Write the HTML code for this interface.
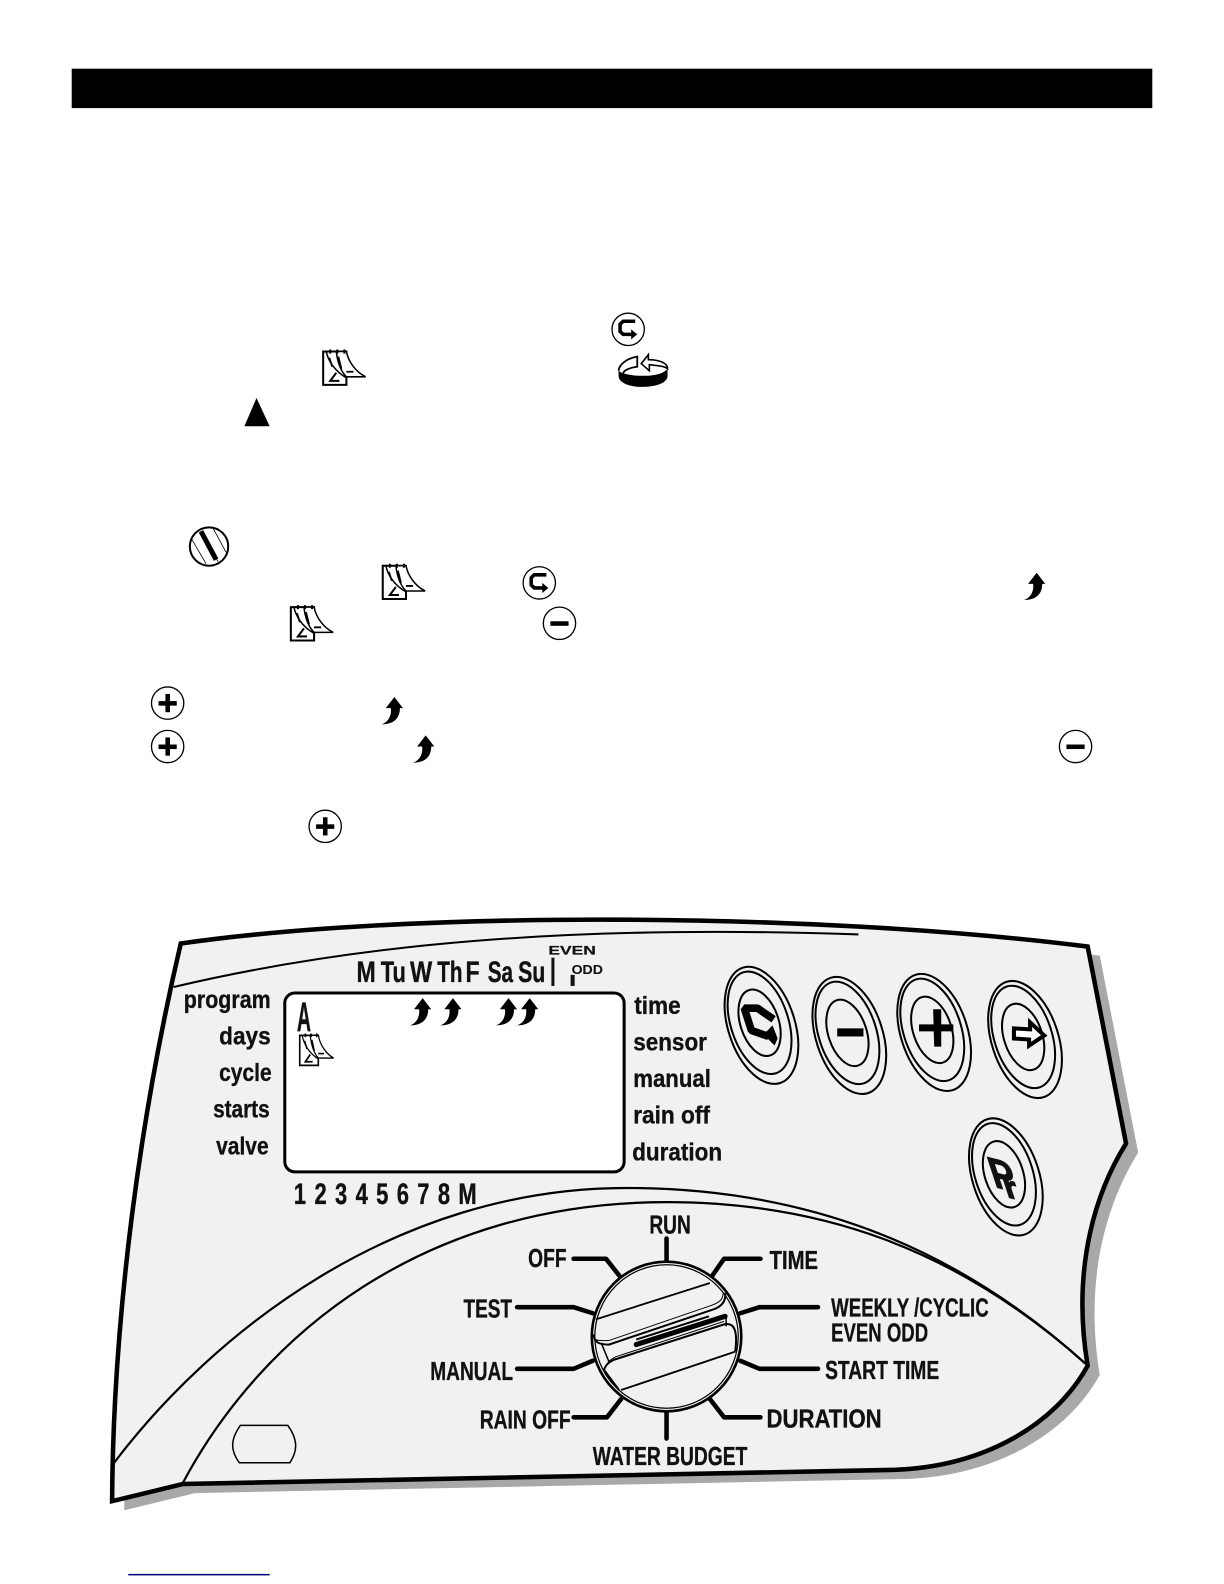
<!DOCTYPE html>
<html><head><meta charset="utf-8"><style>
html,body{margin:0;padding:0;background:#fff}
svg{display:block}
text{font-family:"Liberation Sans",sans-serif;font-weight:bold;fill:#111;stroke:#111;stroke-width:.35}
</style></head><body>
<svg width="1224" height="1584" viewBox="0 0 1212 1568" preserveAspectRatio="none" xmlns="http://www.w3.org/2000/svg">
<defs>
<g id="cal">
<path d="M1 1H24V34H1Z" fill="#fff" stroke="#000" stroke-width="2"/>
<path d="M4 1C6 10 12 20 24 27" fill="none" stroke="#000" stroke-width="1.5"/>
<path d="M14 1H24C26 11 33 21 43 26H24C18 20 15 10 14 1Z" fill="#fff" stroke="#000" stroke-width="1.5"/>
<path d="M8 -1v4M15 -1v4M22 -1v4" stroke="#000" stroke-width="2"/>
<path d="M7 7l3 9M16 6l3 12M24 21h7" fill="none" stroke="#000" stroke-width="1.8"/>
<path d="M14 22l-6 8h9" fill="none" stroke="#000" stroke-width="2"/>
</g>
<g id="arr"><path d="M12.5 0L21 11H18C18 21 12 27 0 27C6 25 10 19 9 11H4Z" fill="#000"/></g>
<g id="loopi"><path d="M7-8H-5L-8-5V2L-5 5H4" fill="none" stroke="#000" stroke-width="3.5"/><path d="M3 0L9 5L3 10Z" fill="#000"/></g>
<g id="minusi"><rect x="-9" y="-2" width="18" height="4.5" fill="#000"/></g>
<g id="plusi"><rect x="-9" y="-2" width="18" height="4.5" fill="#000"/><rect x="-2.2" y="-9" width="4.5" height="18" fill="#000"/></g>
<g id="btn" fill="none" stroke="#000" stroke-width="2">
<ellipse cx="0" cy="0" rx="33" ry="60"/>
<ellipse cx="-1" cy="-3" rx="28.5" ry="52.5"/>
<ellipse cx="-1" cy="-3" rx="19" ry="34"/>
</g>
</defs>

<rect x="71" y="68" width="1070" height="39" fill="#000"/>

<circle cx="622" cy="326" r="16" fill="#fff" stroke="#000" stroke-width="1.3"/><use href="#loopi" x="622" y="326"/>
<use href="#cal" x="319" y="347"/>
<g transform="translate(612,350)">
<path d="M.5 17C6 21 16 22 24 22C34 22 44 21 49 15V22C49 29 38 33 24 33C11 33 .5 29 .5 22Z" fill="#000"/>
<path d="M.5 17C1 11 8 5 19 3V13C11 14 5 17 5 20" fill="#fff" stroke="#000" stroke-width="1.8"/>
<path d="M23 10L30 1V6C40 6 49 9 49 15C45 12 38 12 31 11V17Z" fill="#fff" stroke="#000" stroke-width="1.6"/>
</g>
<path d="M254 394L267 422H242Z" fill="#000"/>

<g transform="translate(207,541)">
<circle r="19" fill="#fff" stroke="#000" stroke-width="2"/>
<path d="M-17-7L-3 17M-8-14L9 15M4-18L17 6" stroke="#000" stroke-width=".8" fill="none"/>
<path d="M-8-15L7 13" stroke="#000" stroke-width="5"/>
</g>
<use href="#cal" x="378" y="559"/>
<circle cx="534" cy="577" r="16" fill="#fff" stroke="#000" stroke-width="1.3"/><use href="#loopi" x="534" y="577"/>
<use href="#arr" x="1014" y="567"/>
<use href="#cal" x="287" y="600"/>
<circle cx="554" cy="617" r="16" fill="#fff" stroke="#000" stroke-width="1.3"/><use href="#minusi" x="554" y="617"/>
<circle cx="166" cy="696" r="16" fill="#fff" stroke="#000" stroke-width="1.3"/><use href="#plusi" x="166" y="696"/>
<use href="#arr" x="378" y="690"/>
<circle cx="166" cy="739" r="16" fill="#fff" stroke="#000" stroke-width="1.3"/><use href="#plusi" x="166" y="739"/>
<use href="#arr" x="409" y="728"/>
<circle cx="1065" cy="739" r="16" fill="#fff" stroke="#000" stroke-width="1.3"/><use href="#minusi" x="1065" y="739"/>
<circle cx="322" cy="818" r="16" fill="#fff" stroke="#000" stroke-width="1.3"/><use href="#plusi" x="322" y="818"/>

<path d="M179 934C400 902 800 902 1077 937L1115 1132C1088 1175 1060 1250 1077 1352C1045 1410 975 1452 885 1455L181 1469L111 1486C112 1300 140 1100 179 934Z" fill="#a6a8aa" transform="translate(12,9)"/>
<path d="M179 934C400 902 800 902 1077 937L1115 1132C1088 1175 1060 1250 1077 1352C1045 1410 975 1452 885 1455L181 1469L111 1486C112 1300 140 1100 179 934Z" fill="#f1f1f1" stroke="#000" stroke-width="4.5"/>
<path d="M172 977C350 935 560 915 850 925" fill="none" stroke="#000" stroke-width="2"/>
<path d="M113 1448C210 1320 390 1176 620 1176C790 1176 940 1228 1075 1350" fill="none" stroke="#000" stroke-width="2.2"/>
<path d="M181 1468C260 1320 420 1190 660 1190C810 1190 945 1234 1075 1350" fill="none" stroke="#000" stroke-width="2.2"/>
<rect x="282" y="983" width="336" height="177" rx="10" fill="#fff" stroke="#000" stroke-width="3"/>

<text x="182" y="998" font-size="25" textLength="86" lengthAdjust="spacingAndGlyphs">program</text>
<text x="217" y="1034" font-size="25" textLength="51" lengthAdjust="spacingAndGlyphs">days</text>
<text x="217" y="1070" font-size="25" textLength="52" lengthAdjust="spacingAndGlyphs">cycle</text>
<text x="211" y="1106" font-size="25" textLength="56" lengthAdjust="spacingAndGlyphs">starts</text>
<text x="214" y="1143" font-size="25" textLength="52" lengthAdjust="spacingAndGlyphs">valve</text>
<text x="628" y="1004" font-size="25" textLength="46" lengthAdjust="spacingAndGlyphs">time</text>
<text x="627" y="1040" font-size="25" textLength="73" lengthAdjust="spacingAndGlyphs">sensor</text>
<text x="627" y="1076" font-size="25" textLength="77" lengthAdjust="spacingAndGlyphs">manual</text>
<text x="627" y="1112" font-size="25" textLength="76" lengthAdjust="spacingAndGlyphs">rain off</text>
<text x="626" y="1149" font-size="25" textLength="89" lengthAdjust="spacingAndGlyphs">duration</text>

<text x="353" y="972" font-size="29" textLength="19" lengthAdjust="spacingAndGlyphs">M</text>
<text x="377" y="972" font-size="29" textLength="25" lengthAdjust="spacingAndGlyphs">Tu</text>
<text x="406" y="972" font-size="29" textLength="22" lengthAdjust="spacingAndGlyphs">W</text>
<text x="433" y="972" font-size="29" textLength="25" lengthAdjust="spacingAndGlyphs">Th</text>
<text x="461" y="972" font-size="29" textLength="14" lengthAdjust="spacingAndGlyphs">F</text>
<text x="483" y="972" font-size="29" textLength="25" lengthAdjust="spacingAndGlyphs">Sa</text>
<text x="513" y="972" font-size="29" textLength="27" lengthAdjust="spacingAndGlyphs">Su</text>
<rect x="546" y="948" width="3" height="28" fill="#111"/>
<text x="543" y="945" font-size="12" textLength="47" lengthAdjust="spacingAndGlyphs" style="stroke-width:.2">EVEN</text>
<text x="566" y="964" font-size="13" textLength="31" lengthAdjust="spacingAndGlyphs" style="stroke-width:.1">ODD</text>
<rect x="565" y="965" width="4" height="11" fill="#111"/>

<text x="294" y="1021" font-size="41" textLength="14" lengthAdjust="spacingAndGlyphs">A</text>
<use href="#arr" x="406" y="988"/><use href="#arr" x="436" y="988"/><use href="#arr" x="491" y="988"/><use href="#arr" x="512" y="988"/>
<use href="#cal" transform="translate(296,1024) scale(.8,.9)"/>

<text x="291" y="1192" font-size="29" textLength="181" lengthAdjust="spacingAndGlyphs" word-spacing="3">1 2 3 4 5 6 7 8 M</text>

<!-- dial ticks -->
<g fill="none" stroke="#000" stroke-width="4.5" stroke-linecap="round" stroke-linejoin="round">
<path d="M660 1250V1226"/>
<path d="M703 1266L717 1246H753"/>
<path d="M733 1300L752 1294H810"/>
<path d="M733 1347L752 1355H810"/>
<path d="M703 1385L717 1403H753"/>
<path d="M660 1398V1424"/>
<path d="M615 1385L601 1403H568"/>
<path d="M587 1347L568 1355H512"/>
<path d="M587 1300L568 1294H512"/>
<path d="M615 1265L600 1246H568"/>
</g>
<g transform="translate(660,1323)" fill="none" stroke="#000">
<circle r="74" fill="#f1f1f1" stroke-width="2.6"/>
<circle r="71" stroke-width="1.2"/>
<path d="M-70-17L43-53M-45 53L68 15" stroke-width="1.8"/>
<path d="M-72-2C-72 5-68 8-57 8L47-27C55-30 59-35 58-43" stroke-width="2"/>
<path d="M-72-2C-72 5-68 4-57 4L45-31C53-34 56-37 56-43" stroke-width="1"/>
<path d="M-47 53L-62 33C-60 28-58 26-52 23L57-12C66-14 71-8 68 15" stroke-width="2"/>
<path d="M-60 29C-58 25-56 23-50 20L57-15" stroke-width="1"/>
<path d="M-30 8L58-20" stroke-width="5" stroke-linecap="round"/>
<path d="M-30 3L42-20" stroke-width="2"/>
<path d="M-64 8L-57 25M59-20V-10" stroke-width="1.5"/>
</g>
<g font-size="26">
<text x="643" y="1221" textLength="41" lengthAdjust="spacingAndGlyphs">RUN</text>
<text x="523" y="1254" textLength="38" lengthAdjust="spacingAndGlyphs">OFF</text>
<text x="762" y="1256" textLength="48" lengthAdjust="spacingAndGlyphs">TIME</text>
<text x="459" y="1304" textLength="48" lengthAdjust="spacingAndGlyphs">TEST</text>
<text x="823" y="1303" textLength="156" lengthAdjust="spacingAndGlyphs">WEEKLY /CYCLIC</text>
<text x="823" y="1328" textLength="96" lengthAdjust="spacingAndGlyphs">EVEN ODD</text>
<text x="426" y="1366" textLength="82" lengthAdjust="spacingAndGlyphs">MANUAL</text>
<text x="817" y="1365" textLength="113" lengthAdjust="spacingAndGlyphs">START TIME</text>
<text x="475" y="1414" textLength="90" lengthAdjust="spacingAndGlyphs">RAIN OFF</text>
<text x="759" y="1413" textLength="114" lengthAdjust="spacingAndGlyphs">DURATION</text>
<text x="587" y="1450" textLength="153" lengthAdjust="spacingAndGlyphs">WATER BUDGET</text>
</g>

<!-- buttons -->
<g transform="translate(754,1015) rotate(-18)"><use href="#btn"/></g>
<g transform="translate(841,1025) rotate(-18)"><use href="#btn"/></g>
<g transform="translate(925,1022) rotate(-18)"><use href="#btn"/></g>
<g transform="translate(1015,1029) rotate(-18)"><use href="#btn"/></g>
<g transform="translate(996,1165) rotate(-18)"><use href="#btn"/></g>
<g transform="translate(752,1012)">
<path d="M14-3L-2-14H-15L-8 8L9 14" fill="none" stroke="#000" stroke-width="7.5" stroke-linejoin="bevel"/>
<path d="M13 3L18 16L15 23L4 12Z" fill="#000"/>
</g>
<rect x="829" y="1018" width="26" height="8" fill="#000"/>
<path d="M910 1014L944 1014V1021L910 1021Z M924 999H932L932 1036H925Z" fill="#000"/>
<path d="M1004 1018L1020 1019V1012L1034 1025L1019 1035V1029L1004 1028Z" fill="#fff" stroke="#000" stroke-width="4"/>
<text transform="matrix(1 .25 .33 1 985 1175)" font-size="44" textLength="25" lengthAdjust="spacingAndGlyphs" style="stroke-width:1">P</text>
<text transform="matrix(1 .25 .33 1 997 1185)" font-size="34" textLength="14" lengthAdjust="spacingAndGlyphs" style="stroke-width:1">r</text>

<path d="M238 1411H285C295 1425 295 1436 287 1448H237C228 1436 228 1425 238 1411Z" fill="none" stroke="#000" stroke-width="1.5"/>
<rect x="127" y="1558" width="140" height="1.5" fill="#000080"/>
</svg>
</body></html>
